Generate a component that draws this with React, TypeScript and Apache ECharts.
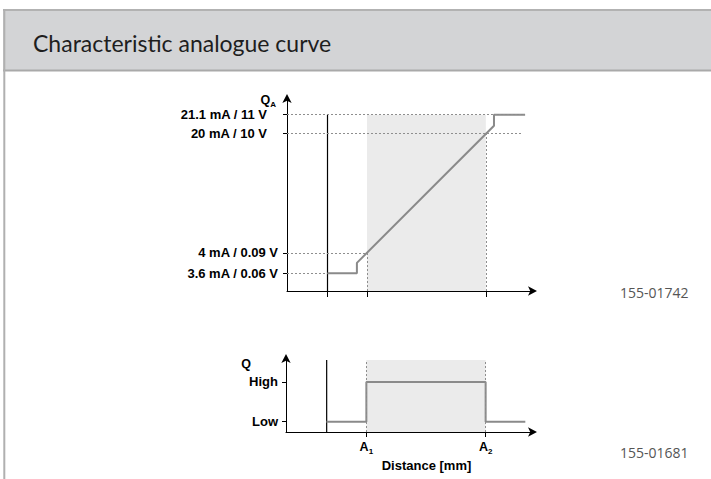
import { useEffect, useRef } from 'react';
import * as echarts from 'echarts';

// ---- schematic data (positions, axes 0..100) ----
const A1 = 32.4;
const A2 = 80.5;
const startX = 16.4;

const topLevelLabels = ['3.6 mA / 0.06 V', '4 mA / 0.09 V', '20 mA / 10 V', '21.1 mA / 11 V'];
const topLevels = [9.1, 19.7, 81.3, 90.9];
const topCurveX = [16.4, 28.3, 28.3, 83.8, 83.8, 96.4];
const topCurveY = [9.1, 9.1, 14.5, 85.2, 90.9, 90.9];

const bottomLevelLabels = ['Low', 'High'];
const bottomLevels = [13.7, 66.7];
const bottomTop = 96;
const bottomCurveX = [16.3, 32.4, 32.4, 80.5, 80.5, 96.5];
const bottomCurveY = [13.7, 13.7, 66.7, 66.7, 13.7, 13.7];

const xMarkLabels = ['1', '2'];
const xMarks = [A1, A2];

const title = 'Characteristic analogue curve';
const codeTop = '155-01742';
const codeBottom = '155-01681';

const LBL = 'Liberation Sans, Arial, sans-serif';

function nearest(arr: number[], v: number) {
  let best = 0;
  for (let i = 1; i < arr.length; i++) if (Math.abs(arr[i] - v) < Math.abs(arr[best] - v)) best = i;
  return best;
}

export default function App() {
  const ref = useRef<HTMLDivElement>(null);
  useEffect(() => {
    if (!ref.current) return;
    const chart = echarts.init(ref.current, undefined, { renderer: 'svg' });
    const black = '#000';
    const dotted = { color: '#8e8e8e', type: [2, 2] as any, width: 1 };
    const axisLine = {
      show: true,
      symbol: ['none', 'arrow'],
      symbolSize: [7, 9],
      symbolOffset: [0, 3],
      lineStyle: { color: black, width: 1 },
    };
    const subRich = {
      q: { fontFamily: LBL, fontWeight: 'bold', fontSize: 12.5, color: '#000', lineHeight: 14, verticalAlign: 'top' },
      s: { fontFamily: LBL, fontWeight: 'bold', fontSize: 8, color: '#000', lineHeight: 8, verticalAlign: 'top', padding: [7, 0, 0, 0] },
    };
    const curve = (xs: number[], ys: number[]) => xs.map((x, i) => [x, ys[i]]);

    chart.setOption({
      animation: false,
      backgroundColor: '#fff',
      grid: [
        { left: 287, top: 97, width: 247, height: 194, containLabel: false, outerBoundsMode: 'none' },
        { left: 286, top: 357, width: 248, height: 75, containLabel: false, outerBoundsMode: 'none' },
      ],
      xAxis: [
        {
          gridIndex: 0, type: 'value', min: 0, max: 100,
          axisLine,
          axisTick: { show: true, customValues: [startX, A1, A2], length: 6, lineStyle: { color: black, width: 1 } },
          axisLabel: { show: false },
          splitLine: { show: false },
        },
        {
          gridIndex: 1, type: 'value', min: 0, max: 100,
          axisLine,
          axisTick: { show: true, customValues: xMarks, length: 5, lineStyle: { color: black, width: 1 } },
          axisLabel: {
            show: true, customValues: xMarks, margin: 8,
            formatter: (v: number) => `{q|A}{s|${xMarkLabels[nearest(xMarks, v)]}}`,
            rich: subRich,
          },
          splitLine: { show: false },
          name: 'Distance [mm]', nameLocation: 'middle', nameGap: 27, nameMoveOverlap: false,
          nameTextStyle: { fontFamily: LBL, fontWeight: 'bold', fontSize: 13, color: '#000', padding: [0, 0, 0, 33] },
        },
      ],
      yAxis: [
        {
          gridIndex: 0, type: 'value', min: 0, max: 100,
          axisLine,
          axisTick: { show: true, customValues: topLevels, length: 4, lineStyle: { color: black, width: 1 } },
          axisLabel: {
            show: true, customValues: topLevels, margin: 9,
            formatter: (v: number) => {
              const i = nearest(topLevels, v);
              return i >= 2 ? `{u|${topLevelLabels[i]}}` : `{l|${topLevelLabels[i]}}`;
            },
            rich: {
              u: { fontFamily: LBL, fontWeight: 'bold', fontSize: 13, color: '#000', padding: [0, 11, 0, 0] },
              l: { fontFamily: LBL, fontWeight: 'bold', fontSize: 13, color: '#000' },
            },
          },
          splitLine: { show: false },
          name: '{q|Q}{s|A}', nameLocation: 'end', nameGap: -3, nameMoveOverlap: false,
          nameTextStyle: { align: 'right', verticalAlign: 'middle', padding: [0, 11, 0, 0], rich: subRich },
        },
        {
          gridIndex: 1, type: 'value', min: 0, max: 100,
          axisLine,
          axisTick: { show: true, customValues: bottomLevels, length: 4, lineStyle: { color: black, width: 1 } },
          axisLabel: {
            show: true, customValues: bottomLevels, margin: 8,
            formatter: (v: number) => bottomLevelLabels[nearest(bottomLevels, v)],
            fontFamily: LBL, fontWeight: 'bold', fontSize: 13, color: '#000',
          },
          splitLine: { show: false },
          name: '{q|Q}', nameLocation: 'end', nameGap: -7, nameMoveOverlap: false,
          nameTextStyle: { align: 'right', verticalAlign: 'middle', padding: [0, 35, 0, 0], rich: subRich },
        },
      ],
      series: [
        // shaded detection ranges
        {
          type: 'line', xAxisIndex: 0, yAxisIndex: 0, z: 1, silent: true,
          data: [[A1, 0]], showSymbol: false, lineStyle: { opacity: 0 },
          markArea: { silent: true, itemStyle: { color: '#ebebeb' }, data: [[{ coord: [A1, 0] }, { coord: [A2, topLevels[3]] }]] },
        },
        {
          type: 'line', xAxisIndex: 1, yAxisIndex: 1, z: 1, silent: true,
          data: [[A1, 0]], showSymbol: false, lineStyle: { opacity: 0 },
          markArea: { silent: true, itemStyle: { color: '#ebebeb' }, data: [[{ coord: [A1, 0] }, { coord: [A2, bottomTop] }]] },
        },
        // dotted guide lines
        {
          type: 'line', xAxisIndex: 0, yAxisIndex: 0, z: 2, silent: true,
          data: [[A1, 0]], showSymbol: false, lineStyle: { opacity: 0 },
          markLine: {
            silent: true, symbol: ['none', 'none'], label: { show: false }, lineStyle: dotted,
            data: [
              [{ coord: [0, topLevels[3]] }, { coord: [96.4, topLevels[3]] }],
              [{ coord: [0, topLevels[2]] }, { coord: [95.4, topLevels[2]] }],
              [{ coord: [0, topLevels[1]] }, { coord: [A1, topLevels[1]] }],
              [{ coord: [0, topLevels[0]] }, { coord: [startX, topLevels[0]] }],
              [{ coord: [A1, 0] }, { coord: [A1, topLevels[1]] }],
              [{ coord: [A2, 0] }, { coord: [A2, topLevels[2]] }],
            ],
          },
        },
        {
          type: 'line', xAxisIndex: 1, yAxisIndex: 1, z: 2, silent: true,
          data: [[A1, 0]], showSymbol: false, lineStyle: { opacity: 0 },
          markLine: {
            silent: true, symbol: ['none', 'none'], label: { show: false }, lineStyle: dotted,
            data: [
              [{ coord: [A1, 0] }, { coord: [A1, bottomTop] }],
              [{ coord: [A2, 0] }, { coord: [A2, bottomTop] }],
            ],
          },
        },
        // black reference (start) lines
        {
          type: 'line', xAxisIndex: 0, yAxisIndex: 0, z: 3, silent: true, showSymbol: false,
          data: [[startX, 0], [startX, topLevels[3]]], lineStyle: { color: black, width: 1.2 },
        },
        {
          type: 'line', xAxisIndex: 1, yAxisIndex: 1, z: 3, silent: true, showSymbol: false,
          data: [[startX, 0], [startX, bottomTop]], lineStyle: { color: black, width: 1.2 },
        },
        // characteristic curves
        {
          type: 'line', xAxisIndex: 0, yAxisIndex: 0, z: 4, silent: true, showSymbol: false,
          data: curve(topCurveX, topCurveY), lineStyle: { color: '#8a8a8a', width: 2 },
        },
        {
          type: 'line', xAxisIndex: 1, yAxisIndex: 1, z: 4, silent: true, showSymbol: false,
          data: curve(bottomCurveX, bottomCurveY), lineStyle: { color: '#8a8a8a', width: 2 },
        },
      ],
      graphic: [
        { type: 'rect', silent: true, z: -1, shape: { x: 3, y: 10, width: 708, height: 60 }, style: { fill: '#d3d4d6' } },
        { type: 'line', silent: true, shape: { x1: 3, y1: 10, x2: 711, y2: 10 }, style: { stroke: '#b2b2b2', lineWidth: 2 } },
        { type: 'line', silent: true, shape: { x1: 3, y1: 70.5, x2: 711, y2: 70.5 }, style: { stroke: '#a9a9a9', lineWidth: 2 } },
        { type: 'line', silent: true, shape: { x1: 4.3, y1: 9, x2: 4.3, y2: 479 }, style: { stroke: '#b0b0b0', lineWidth: 2 } },
        {
          type: 'text', silent: true, x: 33, y: 43,
          style: { text: title, fontFamily: 'Lato, sans-serif', fontSize: 23, fill: '#1e1e1e', verticalAlign: 'middle' },
        },
        {
          type: 'text', silent: true, x: 620, y: 292,
          style: { text: codeTop, fontFamily: 'Open Sans, sans-serif', fontSize: 14, fill: '#555', verticalAlign: 'middle' },
        },
        {
          type: 'text', silent: true, x: 620, y: 452,
          style: { text: codeBottom, fontFamily: 'Open Sans, sans-serif', fontSize: 14, fill: '#555', verticalAlign: 'middle' },
        },
      ],
    });
    return () => chart.dispose();
  }, []);
  return (
    <div
      ref={ref}
      style={{ position: 'absolute', left: 0, top: 0, width: 711, height: 479, background: '#fff' }}
    />
  );
}
